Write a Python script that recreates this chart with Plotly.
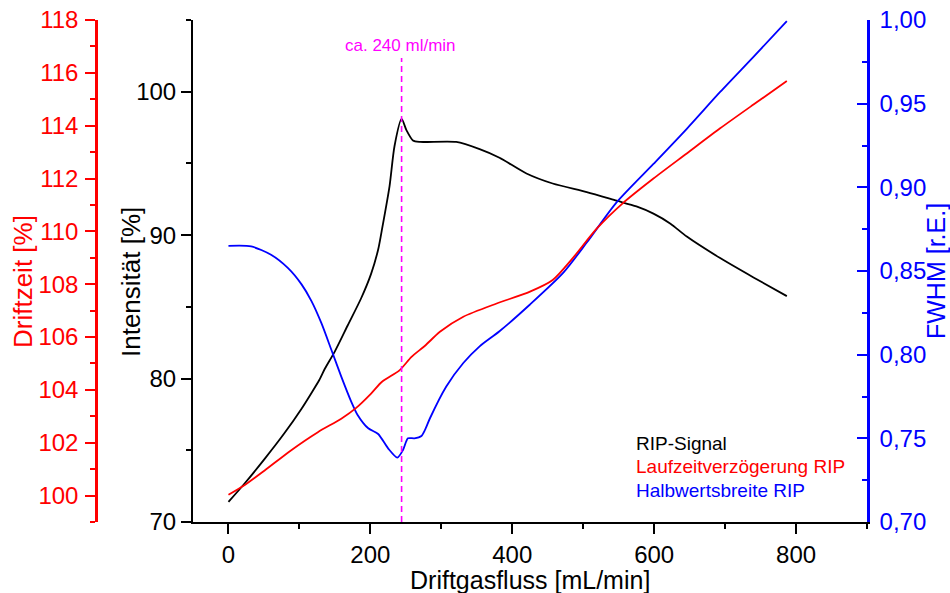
import plotly.graph_objects as go

# Driftgasfluss [mL/min] vs. RIP-Signal (Intensität [%])
flow_int = [0, 23, 51, 79, 103, 117, 128, 136, 150, 168, 187, 201, 211, 216, 227, 234, 244,
            251, 260, 270, 321, 354, 382, 420, 457, 505, 547, 575, 599, 623, 646, 693, 740, 787]
intensity = [71.4, 72.7, 74.4, 76.2, 77.9, 79.0, 79.9, 80.7, 81.9, 83.7, 85.6, 87.3, 89.0, 90.3,
             93.4, 96.2, 98.1, 97.3, 96.6, 96.5, 96.5, 96.0, 95.4, 94.3, 93.6, 93.0, 92.4, 92.0,
             91.5, 90.8, 89.9, 88.4, 87.05, 85.75]

# Laufzeitverzögerung RIP (Driftzeit [%])
flow_drift = [0, 23, 51, 88, 126, 159, 180, 201, 216, 241, 258, 277, 298, 331, 378, 425, 457,
              485, 519, 556, 599, 646, 693, 740, 787]
driftzeit = [100.03, 100.4, 100.95, 101.71, 102.4, 102.91, 103.32, 103.86, 104.3, 104.74, 105.25,
             105.67, 106.2, 106.77, 107.27, 107.72, 108.16, 108.98, 110.1, 111.07, 112.0, 112.95,
             113.9, 114.8, 115.69]

# Halbwertsbreite RIP (FWHM [r.E.])
flow_fwhm = [0, 32, 60, 84, 103, 117, 131, 145, 159, 173, 182, 197, 211, 225, 238, 246, 253,
             262, 272, 277, 284, 307, 331, 354, 382, 425, 472, 505, 547, 599, 646, 693, 740, 787]
fwhm = [0.865, 0.8647, 0.8597, 0.8517, 0.8420, 0.8320, 0.8188, 0.8029, 0.7869, 0.772, 0.764,
        0.756, 0.7526, 0.744, 0.7385, 0.743, 0.750, 0.750, 0.7514, 0.755, 0.762, 0.781, 0.795,
        0.805, 0.814, 0.830, 0.849, 0.867, 0.891, 0.914, 0.935, 0.957, 0.978, 0.9993]

marker_flow = 244
marker_label = "ca. 240 ml/min"

FONT = "Arial, Liberation Sans, sans-serif"
RED = "#ff0000"
BLUE = "#0000ff"
MAGENTA = "#ff00ff"

W, H = 950, 593
L_PX, R_PX, T_PX, B_PX = 193, 867, 20, 522


def px_x(px):
    return px / W


def px_y(py):
    return (B_PX - py) / (B_PX - T_PX)


fig = go.Figure()
fig.add_trace(go.Scatter(x=flow_int, y=intensity, mode="lines", yaxis="y",
                         line=dict(color="black", width=1.8, shape="spline", smoothing=0.7),
                         name="RIP-Signal"))
fig.add_trace(go.Scatter(x=flow_drift, y=driftzeit, mode="lines", yaxis="y3",
                         line=dict(color=RED, width=1.8, shape="spline", smoothing=0.7),
                         name="Laufzeitverzögerung RIP"))
fig.add_trace(go.Scatter(x=flow_fwhm, y=fwhm, mode="lines", yaxis="y2",
                         line=dict(color=BLUE, width=1.8, shape="spline", smoothing=0.7),
                         name="Halbwertsbreite RIP"))

fig.add_shape(type="line", xref="x", yref="paper", x0=marker_flow, x1=marker_flow,
              y0=0, y1=px_y(58), line=dict(color=MAGENTA, width=1.6, dash="6px,4px"))

tick_font = dict(family=FONT, size=24)

fig.update_layout(
    width=W, height=H,
    margin=dict(l=0, r=0, t=T_PX, b=H - B_PX),
    plot_bgcolor="white", paper_bgcolor="white",
    showlegend=False,
    separators=",.",
    font=dict(family=FONT),
    xaxis=dict(
        domain=[px_x(L_PX), px_x(R_PX)], range=[-50, 900],
        tick0=0, dtick=200, ticks="outside", ticklen=10, tickwidth=2, tickcolor="black",
        minor=dict(dtick=100, ticks="outside", ticklen=5, tickwidth=2, tickcolor="black"),
        showline=True, linecolor="black", linewidth=2, showgrid=False, zeroline=False,
        tickfont=dict(tick_font, color="black"), ticklabelstandoff=0,
    ),
    yaxis=dict(
        range=[70, 105], tick0=70, dtick=10, side="left", anchor="x",
        ticks="outside", ticklen=10, tickwidth=2, tickcolor="black",
        minor=dict(dtick=5, ticks="outside", ticklen=5, tickwidth=2, tickcolor="black"),
        showline=True, linecolor="black", linewidth=2, showgrid=False, zeroline=False,
        tickfont=dict(tick_font, color="black"), ticklabelstandoff=0,
    ),
    yaxis2=dict(
        range=[0.70, 1.00], tick0=0.70, dtick=0.05, tickformat=".2f",
        side="right", anchor="x", overlaying="y",
        ticks="inside", ticklen=10, tickwidth=2, tickcolor=BLUE,
        minor=dict(dtick=0.025, ticks="inside", ticklen=5, tickwidth=2, tickcolor=BLUE),
        showline=True, linecolor=BLUE, linewidth=2.5, showgrid=False, zeroline=False,
        tickfont=dict(tick_font, color=BLUE), ticklabelstandoff=5,
    ),
    yaxis3=dict(
        range=[99, 118], tick0=100, dtick=2, side="left", anchor="free",
        position=px_x(96), overlaying="y",
        ticks="outside", ticklen=10, tickwidth=2, tickcolor=RED,
        minor=dict(dtick=1, ticks="outside", ticklen=5, tickwidth=2, tickcolor=RED),
        showline=True, linecolor=RED, linewidth=2.5, showgrid=False, zeroline=False,
        tickfont=dict(tick_font, color=RED), ticklabelstandoff=2,
    ),
)


def label(text, x, y, size, color, angle=0, xanchor="center"):
    fig.add_annotation(text=text, xref="paper", yref="paper", x=px_x(x), y=px_y(y),
                       xanchor=xanchor, yanchor="middle", showarrow=False, textangle=angle,
                       font=dict(family=FONT, size=size, color=color))


# axis titles
label("Driftgasfluss [mL/min]", 530, 580, 25, "black")
label("Intensität [%]", 131, 282, 26, "black", angle=-90)
label("Driftzeit [%]", 23, 282, 26, RED, angle=-90)
label("FWHM [r.E.]", 936, 271, 25, BLUE, angle=-90)

# marker label
label(marker_label, 400, 46, 17, MAGENTA)

# legend text
legend_items = [("RIP-Signal", "black"), ("Laufzeitverzögerung RIP", RED),
                ("Halbwertsbreite RIP", BLUE)]
for i, (text, color) in enumerate(legend_items):
    label(text, 634, 443 + i * 23.5, 19, color, xanchor="left")

fig.write_html("out.html", config={"displayModeBar": False},
               post_script="document.body.style.margin='0';"
                           "document.body.style.overflow='hidden';")
